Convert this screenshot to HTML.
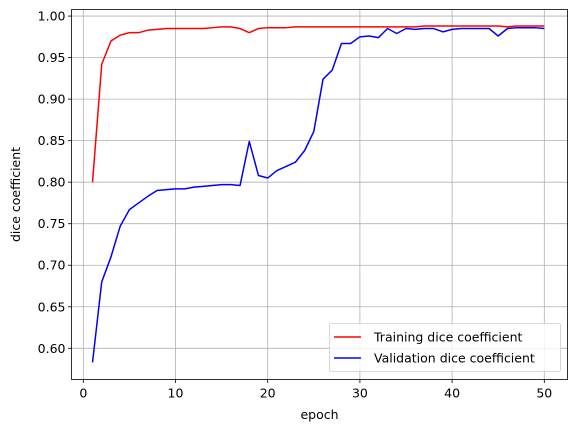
<!DOCTYPE html>
<html><head><meta charset="utf-8"><style>
body{margin:0;background:#fff;width:576px;height:432px;overflow:hidden}
svg{display:block;font-family:"DejaVu Sans","Liberation Sans",sans-serif}
</style></head><body>
<svg id="chart" width="576" height="432"></svg>
<script>
const epochs = Array.from({length:50},(_,i)=>i+1);
const trainDice = [0.800,0.942,0.970,0.977,0.980,0.980,0.983,0.984,0.985,0.985,0.985,0.985,0.985,0.986,0.987,0.987,0.985,0.980,0.985,0.986,0.986,0.986,0.987,0.987,0.987,0.987,0.987,0.987,0.987,0.987,0.987,0.987,0.987,0.987,0.987,0.987,0.988,0.988,0.988,0.988,0.988,0.988,0.988,0.988,0.988,0.987,0.988,0.988,0.988,0.988];
const valDice = [0.583,0.680,0.710,0.747,0.767,0.775,0.783,0.790,0.791,0.792,0.792,0.794,0.795,0.796,0.797,0.797,0.796,0.849,0.808,0.805,0.814,0.819,0.824,0.838,0.861,0.924,0.935,0.967,0.967,0.975,0.976,0.974,0.985,0.979,0.985,0.984,0.985,0.985,0.981,0.984,0.985,0.985,0.985,0.985,0.976,0.985,0.986,0.986,0.986,0.985];
const xTicks = [0,10,20,30,40,50];
const yTicks = [0.60,0.65,0.70,0.75,0.80,0.85,0.90,0.95,1.00];

const svg=document.getElementById('chart');
const NS='http://www.w3.org/2000/svg';
const L=71.5,T=9.5,R=567.5,B=379.5;
const FS=12.5;
const xs=v=>83.3+v*9.22;
const ys=v=>348.3-(v-0.60)*830.6;
function mk(tag,attrs,parent){const e=document.createElementNS(NS,tag);for(const k in attrs)e.setAttribute(k,attrs[k]);(parent||svg).appendChild(e);return e;}

const grid=mk('g',{});


xTicks.forEach(t=>{
  const x=xs(t);
  mk('line',{x1:x,x2:x,y1:T,y2:B,stroke:'#b0b0b0','stroke-width':0.8},grid);
  mk('line',{x1:x,x2:x,y1:B,y2:B+3.5,stroke:'#000','stroke-width':0.8});
  const tx=mk('text',{x:x,y:B+18,'font-size':FS,'text-anchor':'middle'});
  tx.textContent=t;
  
  
});
yTicks.forEach(t=>{
  const y=ys(t);
  mk('line',{x1:L,x2:R,y1:y,y2:y,stroke:'#b0b0b0','stroke-width':0.8},grid);
  mk('line',{x1:L-3.5,x2:L,y1:y,y2:y,stroke:'#000','stroke-width':0.8});
  const tx=mk('text',{x:L-6,y:y+4.5,'font-size':FS,'text-anchor':'end'});
  tx.textContent=t.toFixed(2);
  
  
});
function line(data,color,name){
  const p=mk('polyline',{points:data.map((v,i)=>xs(epochs[i])+','+ys(v)).join(' '),fill:'none',stroke:color,'stroke-width':1.5,'stroke-linejoin':'round'});
  
  
}
line(trainDice,'#ff0000','training-line');
line(valDice,'#0000ff','validation-line');
const frame=mk('rect',{x:L,y:T,width:R-L,height:B-T,fill:'none',stroke:'#000','stroke-width':0.8});


const xl=mk('text',{x:(L+R)/2,y:419,'font-size':FS,'text-anchor':'middle'});xl.textContent='epoch';


const yl=mk('text',{x:0,y:0,'font-size':FS,'text-anchor':'middle',transform:'translate(20,'+((T+B)/2)+') rotate(-90)'});yl.textContent='dice coefficient';


const lg=mk('g',{});


mk('rect',{x:329.5,y:323.5,width:231,height:48,rx:2,fill:'#fff','fill-opacity':0.8,stroke:'#ccc','stroke-width':0.8},lg);
[['Training dice coefficient','#ff0000',337],['Validation dice coefficient','#0000ff',358]].forEach(([t,c,y])=>{
  const g=mk('g',{},lg);
  
  
  mk('line',{x1:334,x2:361,y1:y,y2:y,stroke:c,'stroke-width':1.5},g);
  const tx=mk('text',{x:374,y:y+4.5,'font-size':FS},g);tx.textContent=t;
});
</script>
</body></html>
